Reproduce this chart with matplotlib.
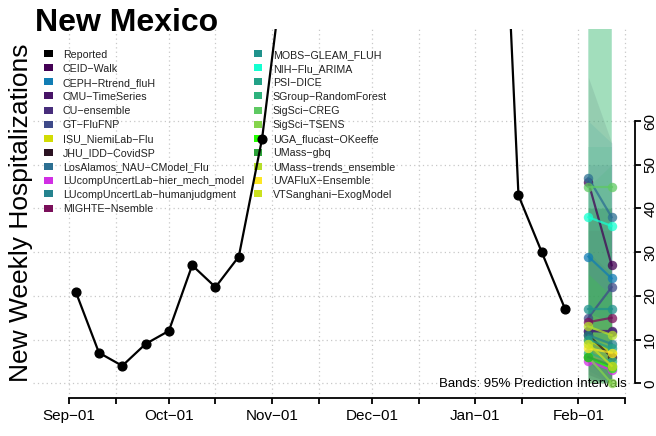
import matplotlib
matplotlib.use("Agg")
import matplotlib.pyplot as plt
import matplotlib.dates as mdates
from matplotlib.patches import Rectangle
import numpy as np
import pandas as pd

plt.rcParams['font.family'] = ['Liberation Sans', 'DejaVu Sans']

# ---------------- data ----------------
reported_dates = ['2022-09-03', '2022-09-10', '2022-09-17', '2022-09-24', '2022-10-01',
                  '2022-10-08', '2022-10-15', '2022-10-22', '2022-10-29', '2022-11-05',
                  '2022-11-12', '2022-11-19', '2022-11-26', '2022-12-03', '2022-12-10',
                  '2022-12-17', '2022-12-24', '2022-12-31', '2023-01-07', '2023-01-14',
                  '2023-01-21', '2023-01-28']
reported_values = [21, 7, 4, 9, 12, 27, 22, 29, 56, 99, 160, 220, 260, 250, 230,
                   210, 200, 180, 160, 43, 30, 17]

models = ['CEID−Walk', 'CEPH−Rtrend_fluH', 'CMU−TimeSeries', 'CU−ensemble', 'GT−FluFNP',
          'ISU_NiemiLab−Flu', 'JHU_IDD−CovidSP', 'LosAlamos_NAU−CModel_Flu',
          'LUcompUncertLab−hier_mech_model', 'LUcompUncertLab−humanjudgment',
          'MIGHTE−Nsemble', 'MOBS−GLEAM_FLUH', 'NIH−Flu_ARIMA', 'PSI−DICE',
          'SGroup−RandomForest', 'SigSci−CREG', 'SigSci−TSENS', 'UGA_flucast−OKeeffe',
          'UMass−gbq', 'UMass−trends_ensemble', 'UVAFluX−Ensemble', 'VTSanghani−ExogModel']
model_colors = ['#440154', '#117db4', '#481467', '#472d7b', '#3e4a89',
                '#d2dc04', '#2b1222', '#2c6f92',
                '#d12ee4', '#25838e',
                '#7a0f5a', '#20928c', '#14ffd0', '#22a187',
                '#2db27d', '#5ec962', '#84d44b', '#22ff00',
                '#2ca339', '#b5de2b', '#fde725', '#cbe11e']

forecast_dates = ['2023-02-04', '2023-02-11']
fc_week1 = [46, 29, 12, 12, 15, 10, 11, 47, 5, 11, 14, 17, 38, 10, 7, 45, 6, 6, 6, 13, 8, 9]
fc_week2 = [27, 24, 12, 11.7, 22, 7, 6, 38, 3, 9, 15, 17, 36, 8, 5, 45, 0, 3.5, 4, 11, 7, 4]
lower_week1 = [5, 3, 1, 1, 2, 7, 1, 6, 0, 1, 2, 0, 10, 1, 0, 8, 0, 0, 0, 10, 6, 7]
lower_week2 = [0, 0, 0, 0, 0, 5, 0, 3, 0, 0, 0, 0, 6, 0, 0, 5, 0, 0, 0, 8, 5, 2]
upper_week1 = [70, 60, 40, 40, 50, 13, 30, 100, 15, 40, 35, 54, 100, 90, 45, 95, 85, 25, 40, 16, 10, 11]
upper_week2 = [55, 55, 40, 40, 50, 9, 25, 110, 12, 40, 35, 54, 110, 100, 50, 120, 110, 20, 40, 14, 9, 6]

x_tick_dates = ['2022-09-01', '2022-09-15', '2022-10-01', '2022-10-15', '2022-11-01',
                '2022-11-15', '2022-12-01', '2022-12-15', '2023-01-01', '2023-01-15',
                '2023-02-01', '2023-02-15']
x_tick_labels = ['Sep−01', '', 'Oct−01', '', 'Nov−01', '', 'Dec−01', '', 'Jan−01', '', 'Feb−01', '']
y_ticks = [0, 10, 20, 30, 40, 50, 60]

# ---------------- figure ----------------
W, H = 656, 436
fig = plt.figure(figsize=(W / 100, H / 100), dpi=100)

# overlay providing pixel coordinates
ov = fig.add_axes([0, 0, 1, 1], zorder=0)
ov.set_xlim(0, W)
ov.set_ylim(H, 0)
ov.axis('off')

ax = fig.add_axes([33 / W, 1 - 398 / H, (635 - 33) / W, (398 - 29) / H], zorder=1)
ax.patch.set_alpha(0)

to_num = lambda s: mdates.date2num(pd.Timestamp(s))
rep_x = [to_num(d) for d in reported_dates]
fc_x = [to_num(d) for d in forecast_dates]
tick_x = [to_num(d) for d in x_tick_dates]

sep1 = to_num('2022-09-01')
ax.set_xlim(sep1 - 10.81, sep1 + 170.0)
ax.set_ylim(-3.36, 81.07)

# grid
for tx in tick_x:
    ax.axvline(tx, color='#c8c8c8', lw=0.9, ls=(0, (1, 2.5)), zorder=0)
for ty in y_ticks:
    ax.axhline(ty, color='#c8c8c8', lw=0.9, ls=(0, (1, 2.5)), zorder=0)

# prediction bands
for i, c in enumerate(model_colors):
    ax.fill_between(fc_x, [lower_week1[i], lower_week2[i]], [upper_week1[i], upper_week2[i]],
                    color=c, alpha=0.13, lw=0, zorder=1)

# legend (drawn in pixel coords, above grid, below data lines)
leg_names = ['Reported'] + models
leg_colors = ['black'] + model_colors
n_col1 = 12
for k, (nm, c) in enumerate(zip(leg_names, leg_colors)):
    if k < n_col1:
        sx, tx_, row = 48.3, 62.7, k
    else:
        sx, tx_, row = 257.8, 272.7, k - n_col1
    cy = 54 + 14 * row
    ax.add_patch(Rectangle((sx - 4.3, cy - 3.5), 8.6, 7, color=c, lw=0,
                           transform=ov.transData, clip_on=False, zorder=2))
    ax.text(tx_, cy + 4, nm, fontsize=7.7, ha='left', va='baseline', color='#222222',
            transform=ov.transData, clip_on=False, zorder=2)

# reported
ax.plot(rep_x, reported_values, color='black', lw=1.6, marker='o', ms=6.3, zorder=3)

# forecasts
for i, c in enumerate(model_colors):
    ax.plot(fc_x, [fc_week1[i], fc_week2[i]], color=c, lw=1.6, alpha=0.75,
            marker='o', ms=6.8, mec=c, mew=0, zorder=4)

# axes
for s in ['top', 'left']:
    ax.spines[s].set_visible(False)
ax.spines['bottom'].set_bounds(tick_x[0], tick_x[-1])
ax.spines['right'].set_bounds(0, 60)
ax.spines['bottom'].set_linewidth(1.3)
ax.spines['right'].set_linewidth(1.3)
ax.set_xticks(tick_x)
ax.set_xticklabels(x_tick_labels)
ax.set_yticks(y_ticks)
ax.yaxis.tick_right()
ax.tick_params(axis='x', direction='out', length=4, width=1.3, pad=4, labelsize=11)
ax.tick_params(axis='y', direction='out', length=4, width=1.3, pad=2, labelsize=11,
               labelrotation=90)
for lab in ax.get_yticklabels():
    lab.set_va('center')

ax.text(627, 387, 'Bands: 95% Prediction Intervals', transform=ov.transData,
        ha='right', va='baseline', fontsize=9.5, zorder=2, clip_on=False)

# title and y label
ov.text(35, 31, 'New Mexico', fontsize=23, fontweight='bold', ha='left', va='baseline')
ov.text(21, 213, 'New Weekly Hospitalizations', fontsize=19, rotation=90,
        ha='center', va='center')

fig.savefig('out.png', dpi=100)
